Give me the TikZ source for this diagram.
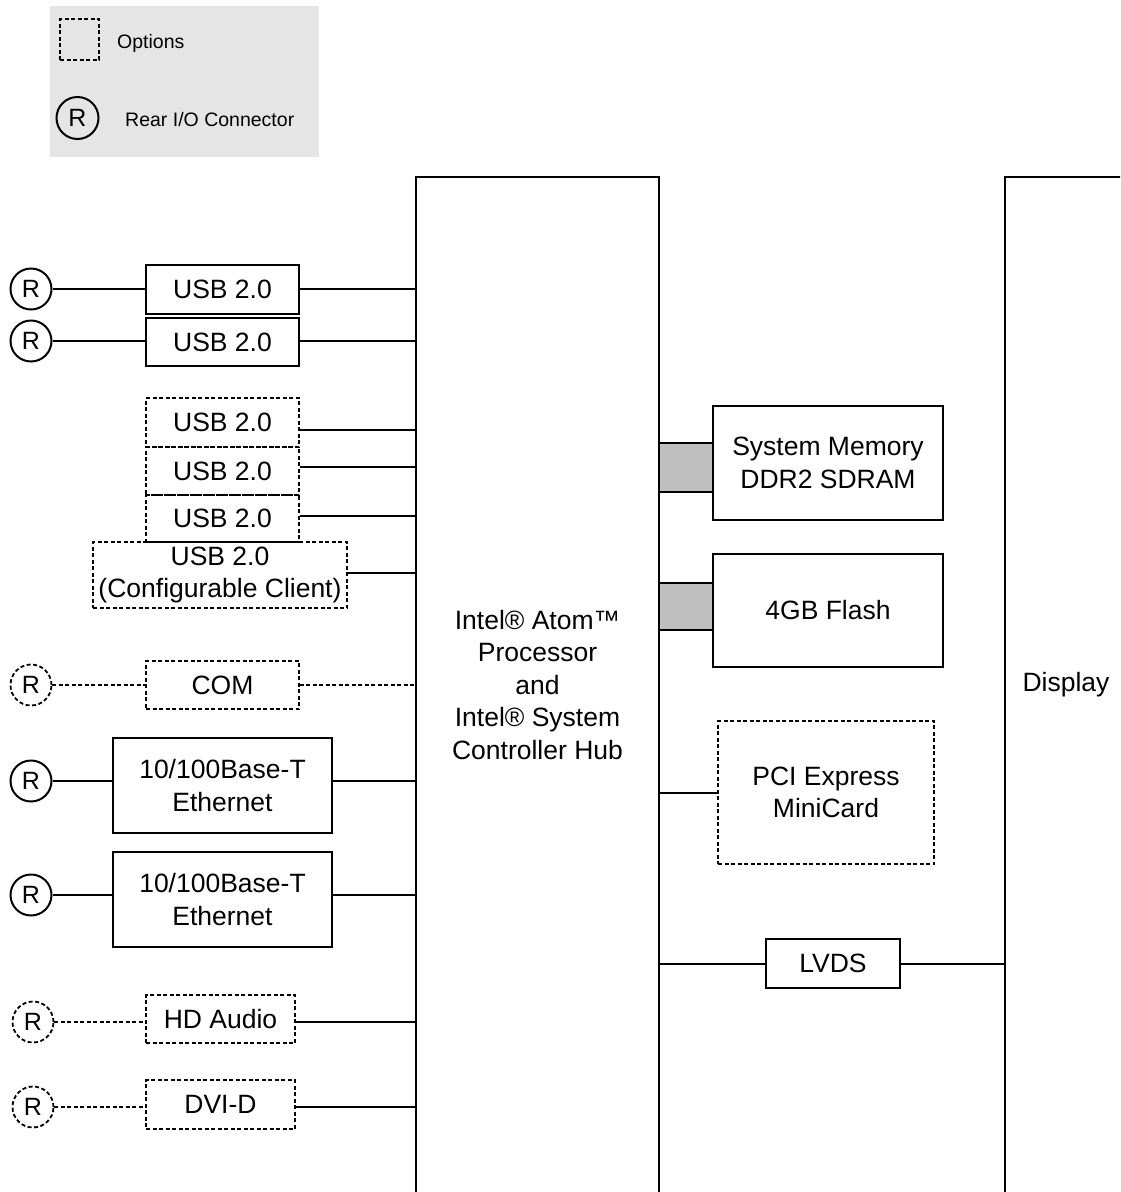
\documentclass[tikz,border=0pt]{standalone}
\usepackage{fontspec}
\setmainfont{Liberation Sans}
\begin{document}
\begin{tikzpicture}[x=1pt,y=-1pt,
  lw/.style={line width=2pt},
  dsh/.style={dash pattern=on 4pt off 2.5pt},
  box/.style={draw,lw,rectangle,inner sep=0pt,align=center,font=\fontsize{26.5}{32.5}\selectfont},
  obox/.style={box,dsh,line width=1.8pt},
  rc/.style={draw,circle,lw,minimum size=41pt,inner sep=0pt,font=\fontsize{25}{30}\selectfont},
  orc/.style={rc,dsh,line width=1.8pt},
  wire/.style={lw},
  owire/.style={lw,dsh,line width=1.8pt},
  gcon/.style={draw,lw,fill=black!25,inner sep=0pt},
  txt/.style={inner sep=0pt,align=center,font=\fontsize{26.5}{32.5}\selectfont},
  ltxt/.style={inner sep=0pt,anchor=west,font=\fontsize{19.5}{24}\selectfont}]
\useasboundingbox (0,0) rectangle (1120,1192);
\clip (0,0) rectangle (1120,1192);

% legend
\fill[black!10] (50,6) rectangle (319,157);
\node[draw,dsh,line width=1.8pt,minimum width=39pt,minimum height=41pt,inner sep=0pt] (lopt) at (79.5,39.5) {};
\node[ltxt] (loptt) at (117,43) {Options};
\node[rc,minimum size=42pt] (lr) at (77.5,118) {R};
\node[ltxt] (lrt) at (125,120) {Rear I/O Connector};

% main blocks
\node[box,minimum width=243pt,minimum height=1016pt] (main) at (537.5,685) {};
\node[txt] (maint) at (537.5,685) {Intel® Atom™\\Processor\\and\\Intel® System\\Controller Hub};
\node[box,minimum width=135pt,minimum height=1016pt] (disp) at (1072.5,685) {};
\node[txt] (dispt) at (1066,685) {Display};

% left side
\node[rc] (c1) at (31,289) {R};
\node[box,minimum width=153pt,minimum height=49pt] (u1) at (222.5,289.5) {USB 2.0};
\node[rc] (c2) at (31,341) {R};
\node[box,minimum width=153pt,minimum height=48pt] (u2) at (222.5,342) {USB 2.0};
\node[obox,minimum width=153pt,minimum height=49pt] (u3) at (222.5,422.5) {USB 2.0};
\node[obox,minimum width=153pt,minimum height=48pt] (u4) at (222.5,471) {USB 2.0};
\node[obox,minimum width=153pt,minimum height=47pt] (u5) at (222.5,518.5) {USB 2.0};
\node[obox,minimum width=254pt,minimum height=66pt] (u6) at (220,575) {USB 2.0\\(Configurable Client)};
\node[orc] (ccom) at (31,685) {R};
\node[obox,minimum width=153pt,minimum height=48pt] (com) at (222.5,685) {COM};
\node[rc] (ce1) at (31,781) {R};
\node[box,minimum width=219pt,minimum height=95pt] (e1) at (222.5,785.5) {10/100Base-T\\Ethernet};
\node[rc] (ce2) at (31,895) {R};
\node[box,minimum width=219pt,minimum height=95pt] (e2) at (222.5,899.5) {10/100Base-T\\Ethernet};
\node[orc] (chd) at (33,1022) {R};
\node[obox,minimum width=149pt,minimum height=48pt] (hd) at (220.5,1019) {HD Audio};
\node[orc] (cdvi) at (33,1107) {R};
\node[obox,minimum width=149pt,minimum height=49pt] (dvi) at (220.5,1104.5) {DVI-D};

% left wires
\draw[wire] (c1) -- (c1 -| u1.west); \draw[wire] (u1.east |- c1) -- (main.west |- c1);
\draw[wire] (c2) -- (c2 -| u2.west); \draw[wire] (u2.east |- c2) -- (main.west |- c2);
\draw[wire] ([yshift=-7.5pt]u3.east) -- ([yshift=-7.5pt]u3.east -| main.west);
\draw[wire] ([yshift=4pt]u4.east) -- ([yshift=4pt]u4.east -| main.west);
\draw[wire] ([yshift=2.5pt]u5.east) -- ([yshift=2.5pt]u5.east -| main.west);
\draw[wire] ([yshift=2pt]u6.east) -- ([yshift=2pt]u6.east -| main.west);
\draw[owire] (ccom) -- (com); \draw[owire] (com.east) -- (com.east -| main.west);
\draw[wire] (ce1) -- (ce1 -| e1.west); \draw[wire] (e1.east |- ce1) -- (main.west |- ce1);
\draw[wire] (ce2) -- (ce2 -| e2.west); \draw[wire] (e2.east |- ce2) -- (main.west |- ce2);
\draw[owire] (chd) -- (chd -| hd.west); \draw[wire] (hd.east |- chd) -- (main.west |- chd);
\draw[owire] (cdvi) -- (cdvi -| dvi.west); \draw[wire] (dvi.east |- cdvi) -- (main.west |- cdvi);

% right side
\node[box,minimum width=230pt,minimum height=114pt] (mem) at (828,463) {System Memory\\DDR2 SDRAM};
\node[gcon,minimum width=54pt,minimum height=49pt] (memc) at (686,467.5) {};
\node[box,minimum width=230pt,minimum height=113pt] (flash) at (828,610.5) {4GB Flash};
\node[gcon,minimum width=54pt,minimum height=47pt] (flc) at (686,606.5) {};
\node[obox,minimum width=216pt,minimum height=143pt] (pci) at (826,792.5) {PCI Express\\MiniCard};
\draw[wire] (main.east |- pci.west) -- (pci.west);
\node[box,minimum width=134pt,minimum height=49pt] (lvds) at (833,963.5) {LVDS};
\draw[wire] (main.east |- lvds.west) -- (lvds.west);
\draw[wire] (lvds.east) -- (lvds.east -| disp.west);
\end{tikzpicture}
\end{document}
